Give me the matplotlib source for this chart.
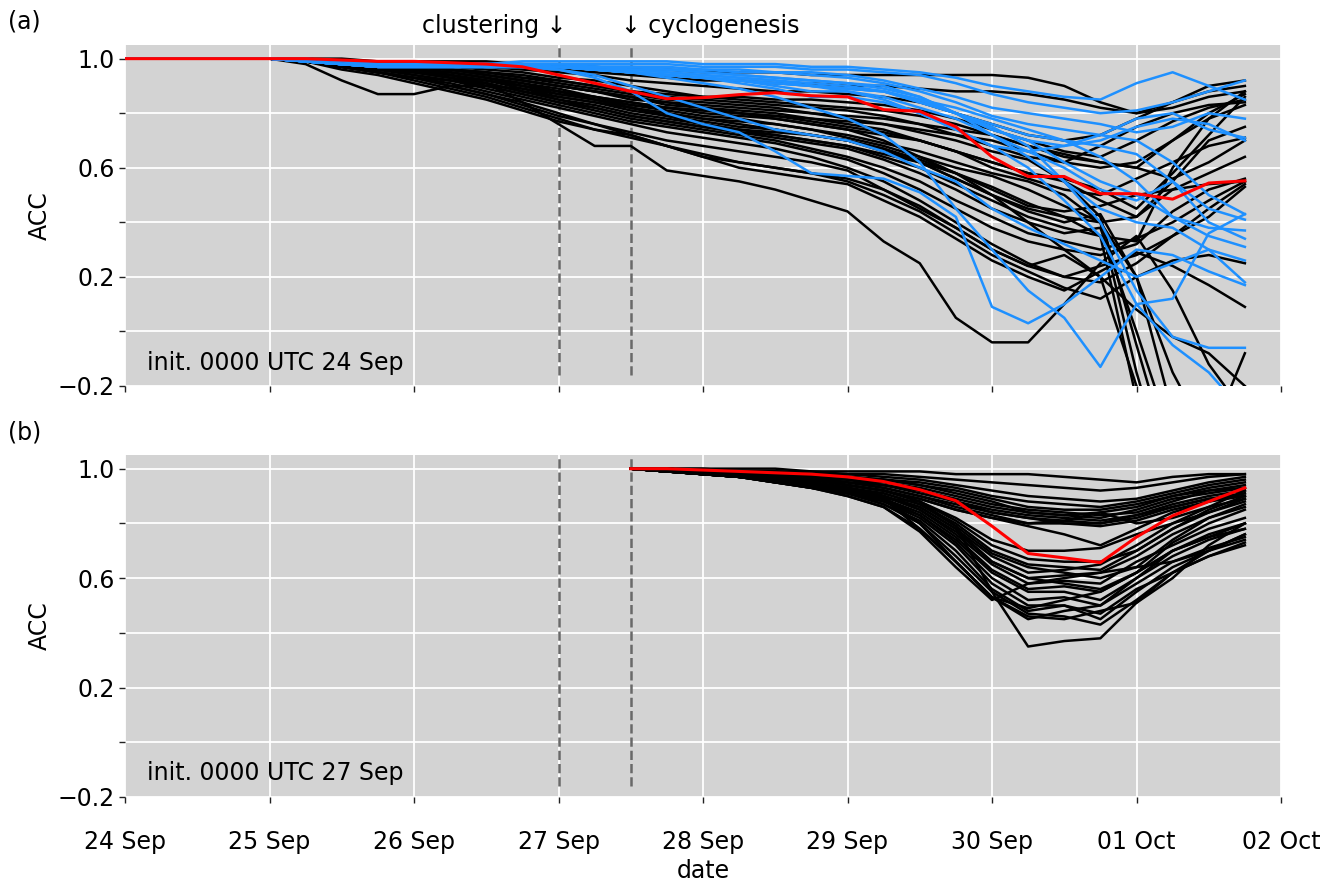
import numpy as np
import pandas as pd
import matplotlib
matplotlib.use('Agg')
import matplotlib.pyplot as plt
import matplotlib.dates as mdates
from matplotlib.ticker import FuncFormatter

# ACC of ensemble members, in hundredths, 6-hourly from 0000 UTC 24 Sep to 1800 UTC 01 Oct
# (a) init. 0000 UTC 24 Sep -- black members
black_a = [
    [100,100,100,100, 100,100,100,99, 99,99,99,98, 97,97,96,96, 95,95,95,94, 94,94,94,94, 94,93,90,84, 80,84,90,92],
    [100,100,100,100, 100,100,99,99, 99,98,98,97, 96,95,94,93, 92,92,91,91, 90,90,89,88, 88,87,85,82, 80,82,86,88],
    [100,100,100,100, 100,100,99,99, 98,98,97,96, 95,94,92,91, 90,89,88,88, 87,86,84,80, 76,72,70,72, 78,84,88,90],
    [100,100,100,100, 100,99,99,98, 98,97,96,95, 93,92,90,88, 86,86,85,85, 84,83,81,78, 74,70,66,64, 70,77,82,85],
    [100,100,100,100, 100,99,99,98, 97,96,95,94, 92,90,88,86, 85,84,83,82, 81,79,76,72, 68,64,62,68, 75,80,83,84],
    [100,100,100,100, 100,99,99,98, 97,96,95,93, 91,89,87,85, 84,83,82,80, 78,76,73,70, 66,63,55,48, 42,55,70,75],
    [100,100,100,100, 100,99,98,98, 97,96,94,92, 90,88,86,83, 82,81,80,78, 76,74,70,66, 60,56,52,50, 56,62,68,71],
    [100,100,100,100, 100,99,98,97, 96,95,93,91, 89,86,84,82, 80,79,78,76, 74,72,70,66, 62,58,55,42, -5,-50,-60,-60],
    [100,100,100,100, 100,99,98,97, 96,95,93,91, 88,86,83,81, 79,78,76,74, 72,69,66,62, 58,55,50,40, -15,-60,-60,-60],
    [100,100,100,100, 100,99,98,97, 96,94,92,90, 87,85,82,80, 78,77,76,74, 71,68,64,60, 57,52,46,40, 42,52,58,64],
    [100,100,100,100, 100,99,98,97, 95,94,92,89, 86,84,81,79, 77,75,74,72, 70,67,63,58, 52,46,44,46, 50,52,54,55],
    [100,100,100,100, 100,99,98,96, 95,93,91,88, 85,83,80,78, 76,74,72,70, 68,65,62,58, 53,47,42,35, -25,-60,-60,-60],
    [100,100,100,100, 100,99,98,96, 95,93,90,87, 84,82,79,77, 75,73,71,69, 67,63,58,52, 45,40,36,38, 0,-40,-60,-60],
    [100,100,100,100, 100,99,97,96, 94,92,90,87, 84,81,78,76, 74,72,70,67, 64,60,55,48, 42,36,33,30, 34,40,48,55],
    [100,100,100,100, 100,99,97,96, 94,92,89,86, 83,80,77,75, 73,71,69,66, 63,58,52,45, 38,33,30,28, 32,44,52,56],
    [100,100,100,100, 100,99,97,95, 93,91,88,85, 82,79,76,73, 71,69,67,64, 60,55,48,40, 32,25,20,24, 28,35,42,53],
    [100,100,100,100, 100,99,97,95, 93,90,87,84, 80,76,73,70, 68,66,64,62, 59,52,45,38, 30,24,28,20, -20,-60,-60,-60],
    [100,100,100,100, 100,99,97,95, 92,89,86,82, 78,74,71,68, 65,62,60,58, 55,50,44,36, 28,22,16,12, 20,26,28,25],
    [100,100,100,100, 100,99,96,94, 91,88,85,81, 77,74,72,68, 64,60,58,56, 54,48,42,34, 26,20,15,22, 29,24,17,9],
    [100,100,100,100, 100,99,97,95, 93,92,91,84, 76,68,68,59, 57,55,52,48, 44,33,25,5, -4,-4,10,25, 35,15,-12,-30],
    [100,100,100,100, 100,99,97,95, 93,90,87,83, 79,76,72,68, 64,62,60,58, 56,52,46,38, 30,24,20,18, 25,35,45,54],
    [100,100,100,100, 100,98,92,87, 87,90,90,89, 87,85,83,82, 81,80,79,78, 77,76,74,72, 70,66,62,60, 62,70,78,83],
    [100,100,100,100, 100,99,98,97, 95,93,91,88, 86,84,82,80, 78,76,74,72, 70,67,62,56, 50,45,42,40, 20,-15,-40,-8],
    [100,100,100,100, 100,99,98,97, 96,94,92,90, 88,86,84,82, 81,80,79,77, 75,73,70,66, 62,58,56,52, 45,58,72,86],
    [100,100,100,100, 100,99,99,98, 97,96,94,92, 90,88,85,84, 83,82,81,80, 79,78,76,74, 72,68,65,62, 60,70,80,87],
    [100,100,100,100, 100,99,98,97, 96,95,93,90, 88,85,82,79, 76,74,73,72, 70,66,62,56, 50,44,40,43, 20,-30,-60,-60],
    [100,100,100,100, 100,99,98,97, 96,94,91,88, 85,82,79,77, 75,73,72,70, 68,64,60,54, 48,42,38,35, 33,60,78,88],
    [100,100,100,100, 100,99,99,98, 97,96,95,93, 92,90,88,87, 86,85,84,83, 82,81,79,76, 72,68,64,62, 60,56,62,70],
    [100,100,100,100, 100,99,99,98, 97,96,94,92, 90,88,86,84, 82,80,78,76, 74,70,64,58, 50,40,30,20, 8,-2,-8,-20],
]

# (a) blue members
blue_a = [
    [100,100,100,100, 100,100,99,98, 98,98,98,99, 99,99,99,99, 98,98,98,97, 97,96,95,93, 90,88,86,85, 91,95,90,85],
    [100,100,100,100, 100,100,99,98, 98,98,98,98, 98,98,98,98, 97,97,97,96, 96,95,94,91, 87,84,82,80, 81,84,88,92],
    [100,100,100,100, 100,99,98,98, 98,98,98,98, 98,97,97,97, 96,96,95,95, 94,92,89,86, 82,80,78,76, 73,75,80,78],
    [100,100,100,100, 100,99,98,98, 98,98,98,98, 97,97,97,96, 96,95,95,94, 93,91,88,84, 79,76,74,72, 78,80,74,71],
    [100,100,100,100, 100,99,98,97, 97,97,97,97, 97,97,96,96, 95,94,93,92, 91,89,86,80, 74,70,68,70, 75,78,76,70],
    [100,100,100,100, 100,99,98,97, 97,97,97,97, 97,97,96,95, 94,93,92,90, 88,85,80,74, 68,66,68,72, 70,62,50,43],
    [100,100,100,100, 100,99,98,97, 97,97,97,97, 97,96,95,94, 93,92,91,90, 89,88,84,80, 76,72,70,68, 65,55,45,41],
    [100,100,100,100, 100,99,98,97, 97,97,97,97, 97,96,95,94, 93,92,91,90, 89,88,85,82, 78,74,70,64, 55,42,38,37],
    [100,100,100,100, 100,99,98,97, 97,97,97,97, 97,96,95,94, 93,92,90,88, 88,86,82,78, 72,66,60,52, 48,55,40,34],
    [100,100,100,100, 100,99,98,97, 97,97,97,97, 97,96,96,95, 94,93,92,91, 90,88,84,80, 74,70,62,55, 50,42,35,31],
    [100,100,100,100, 100,99,98,97, 97,97,97,97, 97,97,96,96, 95,94,93,92, 91,90,86,80, 72,64,55,45, 40,38,30,26],
    [100,100,100,100, 100,99,98,97, 97,97,97,97, 96,94,90,86, 82,78,74,72, 70,66,60,55, 45,38,32,26, 20,25,30,18],
    [100,100,100,100, 100,99,98,97, 97,97,97,97, 97,96,95,94, 93,92,91,90, 89,88,85,80, 75,68,55,40, 15,-2,-6,-6],
    [100,100,100,100, 100,99,98,97, 97,97,97,97, 97,96,95,94, 93,91,89,86, 86,84,80,74, 68,60,48,35, 10,-5,-15,-30],
    [100,100,100,100, 100,99,98,97, 97,97,97,97, 97,96,95,93, 91,89,86,82, 78,72,62,45, 30,15,5,-13, 10,12,36,43],
    [100,100,100,100, 100,99,98,97, 97,97,97,97, 96,93,88,80, 76,73,66,58, 57,56,51,42, 9,3,10,20, 30,28,22,17],
]

# (a) ensemble mean
mean_a = [100,100,100,100, 100,100,99.5,99, 99,98.5,98,97, 94,91,88,85.3,
          85.7,86.8,87.5,86.4, 86,81.3,80.7,75, 64,56.8,56.8,50.5, 50.5,48.5,54.4,55.2]

# (b) init. 0000 UTC 27 Sep, 6-hourly from 1200 UTC 27 Sep to 1800 UTC 01 Oct
black_b = [
    [100,100, 100,100,100,99, 99,99,99,98, 98,98,97,96, 95,97,98,98],
    [100,100, 100,99,99,99, 98,98,97,96, 95,94,93,92, 93,95,97,98],
    [100,100, 99,99,99,98, 98,97,96,94, 92,90,89,88, 89,92,95,97],
    [100,100, 99,99,99,98, 97,96,95,93, 90,88,87,86, 88,91,94,96],
    [100,100, 99,99,98,98, 97,96,94,92, 89,86,85,85, 87,90,93,95],
    [100,100, 99,99,98,97, 96,95,93,90, 87,85,84,83, 84,88,92,94],
    [100,100, 99,99,98,97, 96,94,92,89, 86,84,83,82, 85,89,91,93],
    [100,99, 99,98,98,97, 95,94,91,88, 85,83,82,81, 83,87,90,92],
    [100,99, 99,98,97,96, 95,93,90,87, 84,82,80,80, 82,86,89,91],
    [100,99, 99,98,97,96, 95,93,90,86, 83,80,80,79, 81,85,88,90],
    [100,99, 99,98,97,96, 94,92,89,85, 82,80,81,84, 80,82,86,89],
    [100,99, 99,98,97,96, 94,92,89,85, 82,79,76,72, 78,84,88,91],
    [100,100, 99,99,98,98, 97,96,94,91, 88,84,83,84, 86,90,92,93],
    [100,100, 99,99,98,97, 96,94,92,88, 84,82,81,80, 83,86,89,90],
    [100,99, 99,98,97,96, 94,92,88,82, 74,70,70,71, 76,80,84,88],
    [100,99, 99,98,97,96, 94,92,88,81, 72,67,66,66, 70,78,84,89],
    [100,99, 99,98,97,95, 93,91,87,80, 70,65,64,63, 70,78,85,90],
    [100,99, 98,98,97,95, 93,90,86,78, 68,62,63,65, 72,80,86,92],
    [100,99, 98,97,96,95, 93,90,85,77, 66,60,61,62, 68,76,82,86],
    [100,99, 98,97,96,95, 92,90,85,76, 65,58,59,58, 66,72,78,82],
    [100,99, 98,97,96,94, 92,89,84,75, 63,56,57,55, 62,70,76,80],
    [100,99, 98,97,96,94, 92,89,83,74, 62,55,55,52, 60,68,74,78],
    [100,99, 98,97,96,94, 92,88,83,73, 60,52,53,50, 58,66,71,75],
    [100,99, 98,97,96,94, 91,88,82,72, 58,50,50,47, 56,62,68,73],
    [100,99, 98,97,95,94, 91,87,81,70, 56,48,50,45, 55,64,70,76],
    [100,99, 98,97,95,93, 91,87,80,68, 55,47,46,43, 52,62,68,72],
    [100,99, 98,97,95,93, 90,86,78,66, 53,45,48,50, 60,70,75,78],
    [100,99, 98,97,95,93, 90,86,77,64, 52,58,60,62, 64,66,70,74],
    [100,99, 98,97,95,93, 91,89,80,66, 53,46,45,48, 51,60,72,80],
    [100,99, 99,98,97,95, 93,91,87,79, 69,64,62,60, 64,74,82,87],
    [100,99, 99,98,96,95, 93,90,86,78, 66,60,58,56, 62,73,80,85],
    [100,99, 98,97,96,95, 92,89,88,79, 55,35,37,38, 51,62,70,76],
    [100,99, 98,97,96,94, 92,89,78,66, 53,49,52,55, 62,70,75,80],
]

mean_b = [100,100, 99.5,99,98.5,98, 97,95.3,92.3,88.3, 79,69,67.4,65.7, 75,82.8,88,93]

init_labels = ['init. 0000 UTC 24 Sep', 'init. 0000 UTC 27 Sep']
event_labels = ['clustering ↓', '↓ cyclogenesis']

times_a = pd.date_range('2016-09-24 00:00', periods=len(mean_a), freq='6h')
times_b = times_a[len(mean_a) - len(mean_b):]
t_cluster = pd.Timestamp('2016-09-27 00:00')
t_cyclo = pd.Timestamp('2016-09-27 12:00')

FS = 17
LW = 1.8
fig = plt.figure(figsize=(13.41, 8.85), dpi=100)
W, H = 1341, 885
ax1 = fig.add_axes([125 / W, 1 - 386 / H, 1156 / W, 341 / H])
ax2 = fig.add_axes([125 / W, 1 - 797 / H, 1156 / W, 342 / H])

minus_fmt = FuncFormatter(lambda v, p: f'{v:.1f}'.replace('-', '\u2212'))

for ax in (ax1, ax2):
    ax.set_facecolor('lightgray')
    for s in ax.spines.values():
        s.set_visible(False)
    ax.set_xlim(pd.Timestamp('2016-09-24'), pd.Timestamp('2016-10-02'))
    ax.set_ylim(-0.2, 1.05)
    ax.set_yticks([-0.2, 0.2, 0.6, 1.0])
    ax.set_yticks([0.0, 0.4, 0.8], minor=True)
    ax.yaxis.set_major_formatter(minus_fmt)
    ax.xaxis.set_major_locator(mdates.DayLocator())
    ax.xaxis.set_major_formatter(mdates.DateFormatter('%d %b'))
    ax.grid(True, which='both', color='white', lw=1.3)
    ax.set_axisbelow(True)
    ax.tick_params(which='both', length=4, width=1, labelsize=FS, color='#222222')
    ax.tick_params(axis='x', pad=20)
    ax.set_ylabel('ACC', fontsize=FS)
    for t in (t_cluster, t_cyclo):
        ax.axvline(t, ymin=0.032, ymax=1, color='dimgray', ls='--', lw=1.8, zorder=1.5)

ax1.tick_params(axis='x', labelbottom=False)

for m in black_a:
    ax1.plot(times_a, np.array(m) / 100, color='black', lw=LW, zorder=2)
for m in blue_a:
    ax1.plot(times_a, np.array(m) / 100, color='dodgerblue', lw=LW, zorder=3)
ax1.plot(times_a, np.array(mean_a) / 100, color='red', lw=2.2, zorder=4)

for m in black_b:
    ax2.plot(times_b, np.array(m) / 100, color='black', lw=LW, zorder=2)
ax2.plot(times_b, np.array(mean_b) / 100, color='red', lw=2.2, zorder=4)

ax1.text(0.019, 0.048, init_labels[0], transform=ax1.transAxes, fontsize=FS, va='baseline')
ax2.text(0.019, 0.05, init_labels[1], transform=ax2.transAxes, fontsize=FS, va='baseline')

ax1.annotate(event_labels[0], xy=(mdates.date2num(t_cluster), 1), xycoords=('data', 'axes fraction'),
             xytext=(8, 12), textcoords='offset pixels', ha='right', va='baseline', fontsize=FS,
             annotation_clip=False)
ax1.annotate(event_labels[1], xy=(mdates.date2num(t_cyclo), 1), xycoords=('data', 'axes fraction'),
             xytext=(-10, 12), textcoords='offset pixels', ha='left', va='baseline', fontsize=FS,
             annotation_clip=False)

ax2.set_xlabel('date', fontsize=FS, labelpad=3)

fig.text(8 / W, 1 - 21 / H, '(a)', fontsize=FS, va='center', ha='left')
fig.text(8 / W, 1 - 432 / H, '(b)', fontsize=FS, va='center', ha='left')

fig.savefig('out.png', dpi=100)
